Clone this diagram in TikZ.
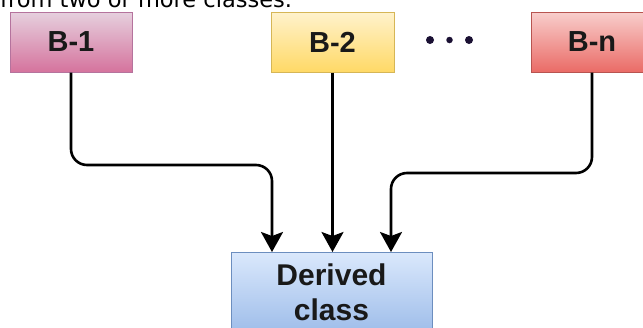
\documentclass[tikz,border=0pt]{standalone}
\usepackage{fontspec}
\setmainfont{Liberation Sans}
\newfontfamily\topfont{DejaVu Sans}
\usetikzlibrary{arrows.meta}
\definecolor{pinkA}{HTML}{E6D0DE}
\definecolor{pinkB}{HTML}{D5739D}
\definecolor{pinkD}{HTML}{B5739D}
\definecolor{yelA}{HTML}{FFF2CC}
\definecolor{yelB}{HTML}{FFD966}
\definecolor{yelD}{HTML}{D6B656}
\definecolor{redA}{HTML}{F8CECC}
\definecolor{redB}{HTML}{EA6B66}
\definecolor{redD}{HTML}{B85450}
\definecolor{bluA}{HTML}{DAE8FC}
\definecolor{bluB}{HTML}{7EA6E0}
\definecolor{bluD}{HTML}{6C8EBF}
\definecolor{dotc}{HTML}{1A1033}
\tikzset{
  basebox/.style={rectangle, minimum height=60pt, inner sep=0pt, line width=1pt,
    font=\fontsize{29}{33}\selectfont\bfseries, text=black!90},
  pinkbox/.style={basebox, draw=pinkD, top color=pinkA, bottom color=pinkB, minimum width=122pt},
  yelbox/.style={basebox, draw=yelD, top color=yelA, bottom color=yelB, minimum width=123pt},
  redbox/.style={basebox, draw=redD, top color=redA, bottom color=redB, minimum width=122pt},
  blubox/.style={rectangle, line width=1pt, text=black!90, draw=bluD, top color=bluA, bottom color=bluB!85!bluA,
    minimum width=201pt, inner xsep=0pt, inner ysep=11pt, text depth=26pt, align=center,
    font=\fontsize{30}{35}\selectfont\bfseries},
  arr/.style={line width=2.6pt, black, rounded corners=16pt,
    -{Stealth[length=20pt, width=22pt, inset=4pt]}},
  dotn/.style={circle, fill=dotc, inner sep=0pt}
}
\begin{document}
\begin{tikzpicture}[x=1pt, y=-1pt]
\useasboundingbox (0,0) rectangle (643,327);
\node[anchor=base west, inner sep=0pt, font=\topfont\fontsize{22.5}{27}\selectfont] (title) at (0,7) {from two or more classes.};
\node[pinkbox] (b1) at (71,42) {B-1};
\node[yelbox] (b2) at (332.5,42) {B-2};
\node[redbox] (bn) at (592,42) {B-n};
\node[dotn, minimum size=8pt] (d1) at (430,40) {};
\node[dotn, minimum size=6.5pt] (d2) at (449.5,40) {};
\node[dotn, minimum size=8pt] (d3) at (469,40) {};
\node[blubox, anchor=north] (dc) at (331.5,252) {Derived\\class};
\coordinate (j1) at (272,165);
\coordinate (j3) at (391,173);
\draw[arr] (b1.south) |- (j1) -- (j1 |- dc.north);
\draw[arr] (b2.south) -- (b2.south |- dc.north);
\draw[arr] (bn.south) |- (j3) -- (j3 |- dc.north);
\end{tikzpicture}
\end{document}
